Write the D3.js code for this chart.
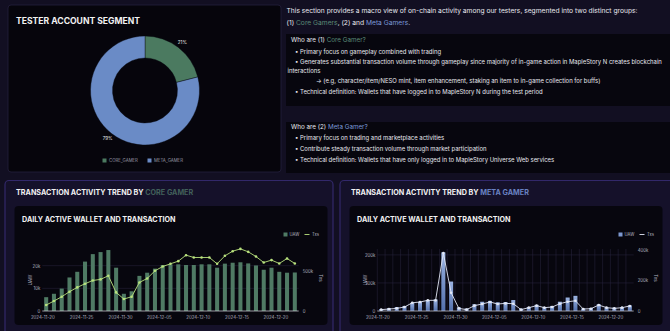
<!DOCTYPE html>
<html><head><meta charset="utf-8">
<script src="https://cdn.jsdelivr.net/npm/d3@7/dist/d3.min.js"></script>
<style>
html,body{margin:0;padding:0;background:#120f22;}
svg{display:block;font-family:Inter,"Noto Sans",sans-serif;}
</style></head>
<body>
<svg id="c" width="670" height="331"></svg>
<script>
// ---------- DATA ----------
const segments = ["CORE_GAMER", "META_GAMER"];
const segmentShare = [21, 79];

const dates = ["2024-11-20","2024-11-21","2024-11-22","2024-11-23","2024-11-24","2024-11-25","2024-11-26","2024-11-27","2024-11-28","2024-11-29","2024-11-30","2024-12-01","2024-12-02","2024-12-03","2024-12-04","2024-12-05","2024-12-06","2024-12-07","2024-12-08","2024-12-09","2024-12-10","2024-12-11","2024-12-12","2024-12-13","2024-12-14","2024-12-15","2024-12-16","2024-12-17","2024-12-18","2024-12-19","2024-12-20","2024-12-21","2024-12-22"];
const xTickLabels = ["2024-11-20","2024-11-25","2024-11-30","2024-12-05","2024-12-10","2024-12-15","2024-12-20"];

const coreUAW = [6100,7600,9900,14800,17300,21800,25100,26000,26900,19100,7600,8700,15500,16900,18700,20300,20600,20600,20300,20300,20600,20600,19100,20900,21300,21500,21000,20100,18200,19100,17300,16900,17000];
const coreTxs = [75000,125000,179000,242000,296000,342000,383000,396000,442000,233000,150000,179000,358000,408000,504000,558000,592000,625000,700000,671000,671000,671000,592000,692000,750000,779000,742000,683000,608000,638000,596000,658000,596000];

const metaUAW = [7000,10000,14000,18000,29000,33000,38000,41000,209000,105000,13000,9000,24000,33000,36000,31000,32000,39000,8000,14000,22000,14000,18000,33000,48000,54000,9000,11000,24000,12000,12000,14000,20000];
const metaTxs = [9000,13000,17000,26000,54000,59000,70000,70000,380000,120000,17000,9000,35000,46000,59000,46000,50000,48000,9000,22000,35000,22000,26000,48000,61000,67000,13000,15000,39000,22000,17000,22000,33000];

const coreLeftTicks = [0,10000,20000];
const coreRightTicks = [0,500000];
const metaLeftTicks = [0,100000,200000];
const metaRightTicks = [0,200000,400000];

// ---------- DRAW ----------
const svg = d3.select("#c");
const FONT = "Inter, 'Noto Sans', sans-serif";
const parse = d3.utcParse("%Y-%m-%d");

// top-left panel
svg.append("rect").attr("x",8).attr("y",5).attr("width",273).attr("height",167).attr("rx",3)
  .attr("fill","#06050c").attr("stroke","#241f3c").attr("stroke-width",0.8);
svg.append("text").attr("x",16).attr("y",24).attr("fill","#f2f2f2").attr("font-size",8.6)
  .attr("font-weight",700).text("TESTER ACCOUNT SEGMENT");

const donutColors = d3.scaleOrdinal().domain(segments).range(["#4b7a60","#6a8bc6"]);
const pie = d3.pie().sort(null).value(d => d.v);
const pdata = pie(segments.map((s,i)=>({k:s,v:segmentShare[i]})));
const arc = d3.arc().innerRadius(32.5).outerRadius(54.5);
const labelArc = d3.arc().innerRadius(61).outerRadius(61);
const dg = svg.append("g").attr("transform","translate(145,90.5)");
dg.selectAll("path").data(pdata).join("path").attr("d",arc)
  .attr("fill",d=>donutColors(d.data.k)).attr("stroke","#06050c").attr("stroke-width",0.4);
dg.selectAll("text").data(pdata).join("text")
  .attr("transform",d=>`translate(${labelArc.centroid(d)})`)
  .attr("text-anchor","middle").attr("dy","0.35em").attr("font-size",4.6).attr("fill","#e6e6e6")
  .text(d=>d.data.v+"%");
const lg = svg.append("g");
segments.forEach((s,i)=>{
  const x0 = i===0 ? 102.5 : 147.5;
  lg.append("rect").attr("x",x0).attr("y",158.5).attr("width",4).attr("height",4).attr("fill",donutColors(s));
  lg.append("text").attr("x",x0+6.5).attr("y",162.3).attr("font-size",4.3).attr("fill","#9a9aa6").text(s);
});

// top-right text
const coreC = "#5b8a76", metaC = "#7b97d6", txt = "#e8e8ee";
function line(x,y,parts,size){
  const t = svg.append("text").attr("x",x).attr("y",y).attr("font-size",size).attr("fill",txt);
  parts.forEach(p=>{ t.append("tspan").attr("fill",p[1]||txt).text(p[0]); });
  return t;
}
line(286.5,13,[["This section provides a macro view of on-chain activity among our testers, segmented into two distinct groups:"]],6.7);
line(286.5,25,[["(1) "],["Core Gamers",coreC],[", (2) and "],["Meta Gamers",metaC],["."]],6.7);

svg.append("rect").attr("x",286).attr("y",34).attr("width",390).attr("height",72).attr("fill","#07060e");
line(291,41.8,[["Who are (1) "],["Core Gamer?",coreC]],6.3);
line(295,53.5,[["• Primary focus on gameplay combined with trading"]],5.95);
line(295,64,[["• Generates substantial transaction volume through gameplay since majority of in-game action in MapleStory N creates blockchain"]],5.95);
line(287.5,72.5,[["interactions"]],5.95);
line(316,83,[["→ (e.g, character/item/NESO mint, item enhancement, staking an item to in-game collection for buffs)"]],5.95);
line(295,93.5,[["• Technical definition: Wallets that have logged in to MapleStory N during the test period"]],5.95);

svg.append("rect").attr("x",286).attr("y",122).attr("width",390).attr("height",51).attr("fill","#07060e");
line(291,128.5,[["Who are (2) "],["Meta Gamer?",metaC]],6.3);
line(295,140,[["•  Primary focus on trading and marketplace activities"]],5.95);
line(295,151,[["• Contribute steady transaction volume through market participation"]],5.95);
line(295,162,[["• Technical definition: Wallets that have only logged in to MapleStory Universe Web services"]],5.95);

// bottom panels
function drawPanel(cfg){
  const o = cfg.ox;
  svg.append("rect").attr("x",o+5).attr("y",180.5).attr("width",cfg.pw).attr("height",160).attr("rx",4)
    .attr("fill","#15112a").attr("stroke","#32286a").attr("stroke-width",1.2);
  const t = svg.append("text").attr("x",o+16).attr("y",195.3).attr("font-size",7.2).attr("font-weight",700).attr("fill","#f2f2f2");
  t.append("tspan").text("TRANSACTION ACTIVITY TREND BY ");
  t.append("tspan").attr("fill",cfg.titleColor).text(cfg.who);
  svg.append("rect").attr("x",o+14.5).attr("y",206).attr("width",313).attr("height",119).attr("rx",4)
    .attr("fill","#07060e");
  svg.append("text").attr("x",o+22).attr("y",222).attr("font-size",7.2).attr("font-weight",700)
    .attr("fill","#f2f2f2").text("DAILY ACTIVE WALLET AND TRANSACTION");

  const x = d3.scaleTime().domain([parse("2024-11-20"), parse("2024-12-23")]).range([o+42.3, o+298.7]);
  const yL = d3.scaleLinear().domain([0,cfg.lMax]).range([311,cfg.top]);
  const yR = d3.scaleLinear().domain([0,cfg.rMax]).range([311,cfg.top]);
  const half = (x(parse("2024-11-21"))-x(parse("2024-11-20")))/2;
  const cx = d => x(parse(d)) + half;

  const g = svg.append("g");
  if(cfg.vgrid){
    g.selectAll(".vg").data(dates).join("line")
      .attr("x1",d=>x(parse(d))).attr("x2",d=>x(parse(d))).attr("y1",cfg.top).attr("y2",311)
      .attr("stroke","#2a2640").attr("stroke-width",0.5);
  }
  g.selectAll(".hg").data(cfg.lTicks.filter(v=>v>0)).join("line")
    .attr("x1",o+42.3).attr("x2",o+298.7).attr("y1",d=>yL(d)).attr("y2",d=>yL(d))
    .attr("stroke","#2a2640").attr("stroke-width",0.5);

  const bw = half*2*0.52;
  g.selectAll(".bar").data(dates).join("rect")
    .attr("x",d=>cx(d)-bw/2).attr("width",bw)
    .attr("y",(d,i)=>yL(cfg.uaw[i])).attr("height",(d,i)=>311-yL(cfg.uaw[i]))
    .attr("fill",cfg.barFill);
  g.append("line").attr("x1",o+42.3).attr("x2",o+298.7).attr("y1",311).attr("y2",311)
    .attr("stroke","#d8d8e0").attr("stroke-width",0.7);
  const ln = d3.line().x(d=>cx(d.d)).y(d=>yR(d.v));
  const ld = dates.map((d,i)=>({d,v:cfg.txs[i]}));
  g.append("path").datum(ld).attr("d",ln).attr("fill","none").attr("stroke",cfg.lineColor).attr("stroke-width",0.9);
  g.selectAll(".pt").data(ld).join("circle").attr("cx",d=>cx(d.d)).attr("cy",d=>yR(d.v)).attr("r",1.3)
    .attr("fill",cfg.lineColor);

  const lab = "#b4b4c0";
  const xa = g.append("g").attr("transform","translate(0,311)")
    .call(d3.axisBottom(x).tickValues(xTickLabels.map(parse)).tickSize(0).tickPadding(4.5).tickFormat(d3.utcFormat("%Y-%m-%d")));
  xa.select(".domain").remove();
  xa.selectAll("text").attr("font-size",4.4).attr("fill",lab).attr("font-family",FONT);

  const la = g.append("g").attr("transform",`translate(${o+42.3},0)`)
    .call(d3.axisLeft(yL).tickValues(cfg.lTicks).tickSize(0).tickPadding(2).tickFormat(d=>d===0?"0":d3.format("~s")(d)));
  la.select(".domain").remove();
  la.selectAll("text").attr("font-size",4.3).attr("fill",lab).attr("font-family",FONT);

  const ra = g.append("g").attr("transform",`translate(${o+298.7},0)`)
    .call(d3.axisRight(yR).tickValues(cfg.rTicks).tickSize(0).tickPadding(4).tickFormat(d=>d===0?"0":d3.format("~s")(d)));
  ra.select(".domain").remove();
  ra.selectAll("text").attr("font-size",4.3).attr("fill",lab).attr("font-family",FONT);

  g.append("text").attr("transform",`translate(${o+31.5},280) rotate(-90)`).attr("text-anchor","middle")
    .attr("font-size",4.6).attr("fill",lab).text("UAW");
  g.append("text").attr("transform",`translate(${o+319},278) rotate(90)`).attr("text-anchor","middle")
    .attr("font-size",4.6).attr("fill",lab).text("Txs");

  g.append("rect").attr("x",o+283.5).attr("y",232.5).attr("width",4).attr("height",4).attr("fill",cfg.legendFill);
  g.append("text").attr("x",o+289.5).attr("y",236.2).attr("font-size",4.2).attr("fill",lab).text("UAW");
  g.append("line").attr("x1",o+304.5).attr("x2",o+309.5).attr("y1",234.5).attr("y2",234.5).attr("stroke",cfg.lineColor).attr("stroke-width",0.9);
  g.append("text").attr("x",o+312).attr("y",236.2).attr("font-size",4.2).attr("fill",lab).text("Txs");
}

const defs = svg.append("defs");
const grad = defs.append("linearGradient").attr("id","metaGrad").attr("x1",0).attr("x2",0).attr("y1",0).attr("y2",1);
grad.append("stop").attr("offset","0%").attr("stop-color","#9bb3e2");
grad.append("stop").attr("offset","100%").attr("stop-color","#5471ad");

drawPanel({ox:0,pw:328,who:"CORE GAMER",titleColor:"#42605a",uaw:coreUAW,txs:coreTxs,
  lMax:27800,rMax:790000,top:248,lTicks:coreLeftTicks,rTicks:coreRightTicks,
  barFill:"#4f7a64",legendFill:"#4f7a64",lineColor:"#b9e27e",vgrid:false});
drawPanel({ox:335,pw:340,who:"META GAMER",titleColor:"#6a82c2",uaw:metaUAW,txs:metaTxs,
  lMax:221000,rMax:407000,top:249,lTicks:metaLeftTicks,rTicks:metaRightTicks,
  barFill:"url(#metaGrad)",legendFill:"#7d97cf",lineColor:"#e3e8f6",vgrid:true});
</script>
</body></html>
